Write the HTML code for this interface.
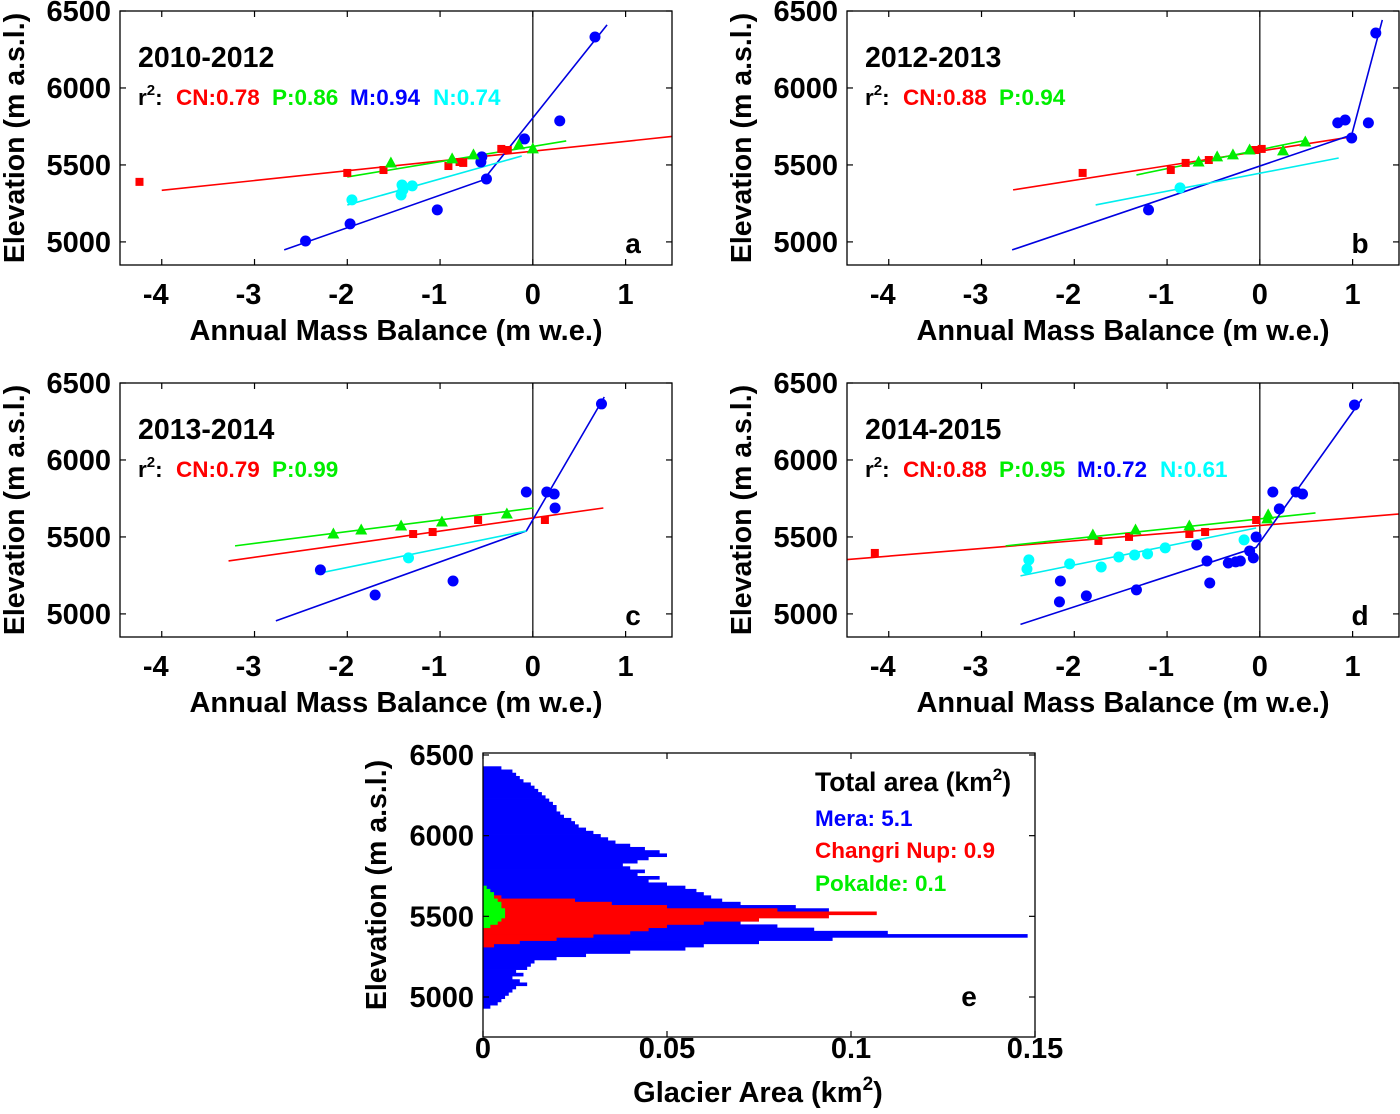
<!DOCTYPE html>
<html><head><meta charset="utf-8"><style>
html,body{margin:0;padding:0;background:#fff;}
svg text{font-family:"Liberation Sans",Arial,sans-serif;font-weight:bold;}
</style></head><body>
<svg id="fig" width="1400" height="1109" viewBox="0 0 1400 1109" xmlns="http://www.w3.org/2000/svg"></svg>
<script>
// ---------- Panel data ----------
const panelNames = ['a','b','c','d'];
const panelPeriods = ['2010-2012','2012-2013','2013-2014','2014-2015'];
const r2Labels = [
  [['CN:0.78','#f00'],['P:0.86','#0e0'],['M:0.94','#00f'],['N:0.74','#0ff']],
  [['CN:0.88','#f00'],['P:0.94','#0e0']],
  [['CN:0.79','#f00'],['P:0.99','#0e0']],
  [['CN:0.88','#f00'],['P:0.95','#0e0'],['M:0.72','#00f'],['N:0.61','#0ff']]
];
// red squares (Changri Nup)
const redX = [[-4.24,-2.0,-1.61,-0.91,-0.79,-0.75,-0.34,-0.27],[-1.91,-0.96,-0.8,-0.55,-0.05,0.02],[-1.29,-1.08,-0.59,0.13],[-4.15,-1.74,-1.41,-0.76,-0.59,-0.04]];
const redY = [[5390,5448,5467,5493,5519,5513,5604,5597],[5448,5467,5513,5532,5597,5604],[5519,5532,5610,5610],[5396,5474,5500,5519,5532,5610]];
// green triangles (Pokalde)
const greenX = [[-1.53,-0.87,-0.64,-0.15,0],[-0.66,-0.46,-0.29,-0.11,0.25,0.49],[-2.15,-1.85,-1.42,-0.98,-0.28],[-1.8,-1.34,-0.76,0.09,0.08]];
const greenY = [[5513,5539,5565,5630,5604],[5519,5552,5565,5597,5591,5649],[5519,5545,5571,5597,5649],[5513,5545,5571,5643,5617]];
// blue circles (Mera)
const blueX = [[-2.45,-1.97,-1.03,-0.56,-0.55,-0.5,-0.09,0.29,0.67],[-1.2,0.84,0.92,0.99,1.17,1.25],[-2.29,-1.7,-0.86,-0.07,0.15,0.23,0.24,0.74],[-2.15,-2.16,-1.87,-1.33,-0.68,-0.57,-0.54,-0.34,-0.26,-0.21,-0.11,-0.07,-0.04,0.14,0.21,0.39,0.46,1.02]];
const blueY = [[5006,5117,5208,5519,5552,5409,5669,5786,6331],[5208,5773,5792,5675,5773,6357],[5286,5123,5214,5792,5792,5779,5688,6364],[5214,5078,5117,5156,5448,5344,5201,5331,5338,5344,5409,5364,5500,5792,5682,5792,5779,6357]];
// cyan circles (Naulek)
const cyanX = [[-1.95,-1.41,-1.4,-1.3,-1.42],[-0.86],[-1.34],[-2.49,-2.51,-2.05,-1.71,-1.52,-1.35,-1.21,-1.02,-0.17]];
const cyanY = [[5273,5370,5338,5364,5305],[5351],[5364],[5351,5292,5325,5305,5370,5383,5390,5429,5481]];
// fit lines (breakpoints)
const redLineX = [[-4.0,1.5],[-2.66,0.98],[-3.28,0.76],[-4.49,1.5]];
const redLineY = [[5335,5685],[5338,5682],[5344,5688],[5351,5649]];
const greenLineX = [[-2.0,0.36],[-1.33,0.51],[-3.21,0.01],[-2.74,0.6]];
const greenLineY = [[5422,5656],[5435,5662],[5442,5688],[5442,5656]];
const blueLineX = [[-2.68,-0.53,-0.51,0.8],[-2.67,0.99,1.32],[-2.77,-0.07,0.77],[-2.58,-0.04,1.1]];
const blueLineY = [[4948,5403,5420,6410],[4948,5695,6442],[4955,5539,6409],[4932,5432,6396]];
const cyanLineX = [[-2.0,-0.12],[-1.77,0.85],[-2.34,-0.07],[-2.58,-0.04]];
const cyanLineY = [[5240,5558],[5240,5545],[5260,5539],[5247,5558]];
const xTicks = [-4,-3,-2,-1,0,1];
const yTicks = [5000,5500,6000,6500];
const panelOrigin = [[120,11],[847,11],[120,383],[847,383]];

// ---------- Panel e data ----------
const meraElev0 = 4940, binStep = 20;
const meraArea = [0.002,0.004,0.005,0.006,0.007,0.008,0.009,0.012,0.010,0.008,0.011,0.009,0.012,0.013,0.014,0.020,0.028,0.040,0.055,0.060,0.075,0.095,0.148,0.110,0.090,0.080,0.070,0.075,0.060,0.070,0.094,0.085,0.070,0.065,0.062,0.060,0.058,0.055,0.050,0.045,0.048,0.042,0.044,0.040,0.038,0.042,0.045,0.050,0.048,0.044,0.040,0.036,0.034,0.032,0.030,0.028,0.026,0.025,0.024,0.022,0.021,0.020,0.020,0.019,0.018,0.017,0.016,0.015,0.014,0.013,0.011,0.010,0.009,0.008,0.005];
const changriElev0 = 5320;
const changriArea = [0.003,0.010,0.020,0.030,0.040,0.045,0.050,0.060,0.075,0.094,0.107,0.080,0.050,0.035,0.025,0.005];
const pokaldeElev0 = 5440;
const pokaldeArea = [0.002,0.004,0.005,0.006,0.006,0.006,0.005,0.005,0.004,0.003,0.003,0.002,0.001];
const eXTicks = [0,0.05,0.1,0.15];
const eXTickLabels = ['0','0.05','0.1','0.15'];

const NS='http://www.w3.org/2000/svg';
const svg=document.getElementById('fig');
function mk(tag,attrs,parent){const e=document.createElementNS(NS,tag);for(const k in attrs)e.setAttribute(k,attrs[k]);(parent||svg).appendChild(e);return e;}

const W=552,H=254;
panelNames.forEach((pn,i)=>{
  const [ox,oy]=panelOrigin[i];
  const g=mk('g',{});
  
  
  const xs=v=>ox+(v+4.45)/5.95*W;
  const ys=v=>oy+(6500-v)/1650*H;
  const cp=mk('clipPath',{id:'cp'+i},g);
  mk('rect',{x:ox,y:oy,width:W,height:H},cp);
  const inner=mk('g',{'clip-path':'url(#cp'+i+')'},g);
  const zl=mk('line',{x1:xs(0),x2:xs(0),y1:oy,y2:oy+H,stroke:'#000','stroke-width':1.2},inner);
  
  
  function line(X,Y,col,name){
    const pts=X.map((x,k)=>xs(x)+','+ys(Y[k])).join(' ');
    const p=mk('polyline',{points:pts,fill:'none',stroke:col,'stroke-width':1.6},inner);
    
    
  }
  line(redLineX[i],redLineY[i],'#f00','changri-fit-line');
  line(greenLineX[i],greenLineY[i],'#0e0','pokalde-fit-line');
  line(blueLineX[i],blueLineY[i],'#0000e0','mera-fit-line');
  line(cyanLineX[i],cyanLineY[i],'#0ee','naulek-fit-line');
  cyanX[i].forEach((x,k)=>{const c=mk('circle',{cx:xs(x),cy:ys(cyanY[i][k]),r:5.5,fill:'#0ff'},inner);
    });
  blueX[i].forEach((x,k)=>{const c=mk('circle',{cx:xs(x),cy:ys(blueY[i][k]),r:5.5,fill:'#00f'},inner);
    });
  redX[i].forEach((x,k)=>{const c=mk('rect',{x:xs(x)-4,y:ys(redY[i][k])-4,width:8,height:8,fill:'#f00'},inner);
    });
  greenX[i].forEach((x,k)=>{const cx=xs(x),cy=ys(greenY[i][k]);
    const c=mk('polygon',{points:`${cx},${cy-6.5} ${cx-6},${cy+4.5} ${cx+6},${cy+4.5}`,fill:'#0e0'},inner);
    });
  const fr=mk('rect',{x:ox,y:oy,width:W,height:H,fill:'none',stroke:'#000','stroke-width':1.3},g);
  
  xTicks.forEach(t=>{
    mk('line',{x1:xs(t),x2:xs(t),y1:oy+H,y2:oy+H-6,stroke:'#000','stroke-width':1.2},g);
    mk('line',{x1:xs(t),x2:xs(t),y1:oy,y2:oy+6,stroke:'#000','stroke-width':1.2},g);
    const tx=mk('text',{x:xs(t)-(t<0?6:0),y:oy+H+39,'text-anchor':'middle','font-size':29},g);
    tx.textContent=String(t);
    
  });
  yTicks.forEach(t=>{
    mk('line',{x1:ox,x2:ox+6,y1:ys(t),y2:ys(t),stroke:'#000','stroke-width':1.2},g);
    mk('line',{x1:ox+W,x2:ox+W-6,y1:ys(t),y2:ys(t),stroke:'#000','stroke-width':1.2},g);
    const tx=mk('text',{x:ox-9,y:ys(t)+10,'text-anchor':'end','font-size':29},g);
    tx.textContent=String(t);
    
  });
  const xl=mk('text',{x:ox+276,y:oy+H+75,'text-anchor':'middle','font-size':29},g);
  xl.textContent='Annual Mass Balance (m w.e.)';
  
  const yl=mk('text',{x:0,y:0,'text-anchor':'middle','font-size':28.5,transform:`translate(${ox-96},${oy+127}) rotate(-90)`},g);
  yl.textContent='Elevation (m a.s.l.)';
  
  const pt=mk('text',{x:ox+18,y:oy+56,'font-size':28.5},g);
  pt.textContent=panelPeriods[i];
  
  const r=mk('text',{x:ox+18,y:oy+94,'font-size':22.5},g);
  r.innerHTML='r<tspan dy="-10" font-size="15">2</tspan><tspan dy="10">:</tspan>';
  
  const offs=[56,152,230,313];
  r2Labels[i].forEach((l,k)=>{
    const t=mk('text',{x:ox+offs[k],y:oy+94,'font-size':22.5,fill:l[1]},g);
    t.textContent=l[0];
    
  });
  const pl=mk('text',{x:ox+W-39,y:oy+H-12,'font-size':28,'text-anchor':'middle'},g);
  pl.textContent=pn;
  
});

// ---------- Panel e ----------
(function(){
  const ox=483,oy=753,W2=552,H2=284;
  const g=mk('g',{});
  
  
  const xs=v=>ox+v/0.15*W2;
  const ys=v=>755+(6500-v)/1500*242;
  const bh=binStep/1500*242;
  function bars(arr,e0,col,name){
    arr.forEach((a,k)=>{
      const el=e0+k*binStep;
      const r=mk('rect',{x:ox,y:ys(el+binStep/2),width:Math.max(0,xs(a)-ox),height:bh+0.4,fill:col},g);
      
      
    });
  }
  bars(meraArea,meraElev0,'#00f','mera-area-bar');
  bars(changriArea,changriElev0,'#f00','changri-area-bar');
  bars(pokaldeArea,pokaldeElev0,'#0f0','pokalde-area-bar');
  const fr=mk('rect',{x:ox,y:oy,width:W2,height:H2,fill:'none',stroke:'#000','stroke-width':1.3},g);
  
  eXTicks.forEach((t,k)=>{
    mk('line',{x1:xs(t),x2:xs(t),y1:oy+H2,y2:oy+H2-6,stroke:'#000','stroke-width':1.2},g);
    mk('line',{x1:xs(t),x2:xs(t),y1:oy,y2:oy+6,stroke:'#000','stroke-width':1.2},g);
    const tx=mk('text',{x:xs(t),y:1058,'text-anchor':'middle','font-size':29},g);
    tx.textContent=eXTickLabels[k];
    
  });
  yTicks.forEach(t=>{
    mk('line',{x1:ox,x2:ox+6,y1:ys(t),y2:ys(t),stroke:'#000','stroke-width':1.2},g);
    mk('line',{x1:ox+W2,x2:ox+W2-6,y1:ys(t),y2:ys(t),stroke:'#000','stroke-width':1.2},g);
    const tx=mk('text',{x:ox-9,y:ys(t)+10,'text-anchor':'end','font-size':29},g);
    tx.textContent=String(t);
    
  });
  const xl=mk('text',{x:758,y:1102,'text-anchor':'middle','font-size':29},g);
  xl.innerHTML='Glacier Area (km<tspan dy="-12" font-size="19">2</tspan><tspan dy="12">)</tspan>';
  
  const yl=mk('text',{x:0,y:0,'text-anchor':'middle','font-size':28.5,transform:`translate(386,885) rotate(-90)`},g);
  yl.textContent='Elevation (m a.s.l.)';
  
  const lt=mk('text',{x:815,y:791,'font-size':26.5},g);
  lt.innerHTML='Total area (km<tspan dy="-11" font-size="17">2</tspan><tspan dy="11">)</tspan>';
  
  [['Mera: 5.1','#00f',826],['Changri Nup: 0.9','#f00',858],['Pokalde: 0.1','#0e0',891]].forEach(l=>{
    const t=mk('text',{x:815,y:l[2],'font-size':22.5,fill:l[1]},g);
    t.textContent=l[0];
    
  });
  const pl=mk('text',{x:969,y:1006,'font-size':28,'text-anchor':'middle'},g);
  pl.textContent='e';
  
})();
</script>
</body></html>
